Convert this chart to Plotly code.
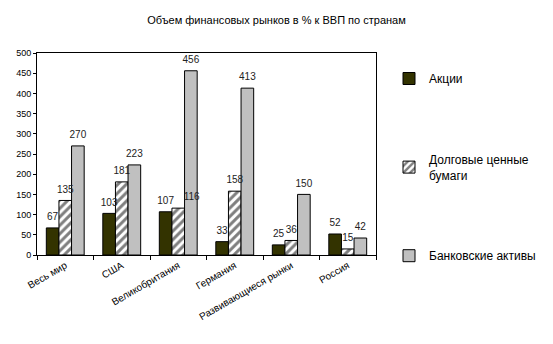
import plotly.graph_objects as go

categories = ["Весь мир", "США", "Великобритания", "Германия", "Развивающиеся рынки", "Россия"]
stocks = [67, 103, 107, 33, 25, 52]
debt = [135, 181, 116, 158, 36, 15]
bank = [270, 223, 456, 413, 150, 42]
series_names = ["Акции", "Долговые ценные<br>бумаги", "Банковские активы"]

FONT = "Liberation Sans, Arial, sans-serif"

# label placement (the reference nudges the "116" label right to clear "107")
debt_label_pos = ["top center", "top center", "top right", "top center", "top center", "top center"]

fig = go.Figure()
fig.add_trace(go.Bar(
    x=categories, y=stocks, name=series_names[0], legendgroup="a", offsetgroup="a",
    marker=dict(color="#333300", line=dict(color="#000000", width=1)),
))
fig.add_trace(go.Bar(
    x=categories, y=debt, name=series_names[1], legendgroup="b", offsetgroup="b",
    marker=dict(color="#ffffff", line=dict(color="#000000", width=1),
                pattern=dict(shape="/", fgcolor="#000000", bgcolor="#ffffff", size=6, solidity=0.5)),
))
fig.add_trace(go.Bar(
    x=categories, y=bank, name=series_names[2], legendgroup="c", offsetgroup="c",
    marker=dict(color="#c0c0c0", line=dict(color="#000000", width=1)),
))
# value labels drawn on top of all bars
for vals, grp, pos in [(stocks, "a", "top center"), (debt, "b", debt_label_pos), (bank, "c", "top center")]:
    fig.add_trace(go.Scatter(
        x=categories, y=vals, mode="markers+text", text=[str(v) for v in vals],
        marker=dict(size=7, opacity=0),
        textposition=pos, offsetgroup=grp, showlegend=False, hoverinfo="skip",
        cliponaxis=False, textfont=dict(family=FONT, size=10, color="#222222"),
    ))

fig.update_layout(
    width=553, height=344,
    margin=dict(l=37, r=156, t=53, b=89),
    paper_bgcolor="#ffffff", plot_bgcolor="#ffffff",
    barmode="group", bargap=0.33, bargroupgap=0,
    scattermode="group", scattergap=0.33,
    font=dict(family=FONT, size=11, color="#000000"),
    title=dict(text="Объем финансовых рынков в % к ВВП по странам",
               x=0.5, xanchor="center", y=1 - 20 / 344, yanchor="middle",
               font=dict(family=FONT, size=11, color="#000000")),
    showlegend=True,
    legend=dict(xref="container", yref="container", x=389 / 553, y=1 - 64 / 344,
                xanchor="left", yanchor="top", tracegroupgap=62, maxheight=320,
                font=dict(family=FONT, size=12, color="#000000"),
                bgcolor="rgba(0,0,0,0)", traceorder="grouped"),
)
fig.update_xaxes(
    showline=True, linecolor="#000000", linewidth=1, mirror=True,
    ticks="outside", ticklen=4, tickcolor="#000000", tickson="boundaries",
    tickangle=-30, tickfont=dict(family=FONT, size=10, color="#000000"),
    showgrid=False,
)
fig.update_yaxes(
    range=[0, 500], dtick=50, showline=True, linecolor="#000000", linewidth=1, mirror=True,
    ticks="outside", ticklen=3, tickcolor="#000000",
    tickfont=dict(family=FONT, size=9, color="#000000"),
    showgrid=False, zeroline=False,
)

fig.write_html("out.html")
